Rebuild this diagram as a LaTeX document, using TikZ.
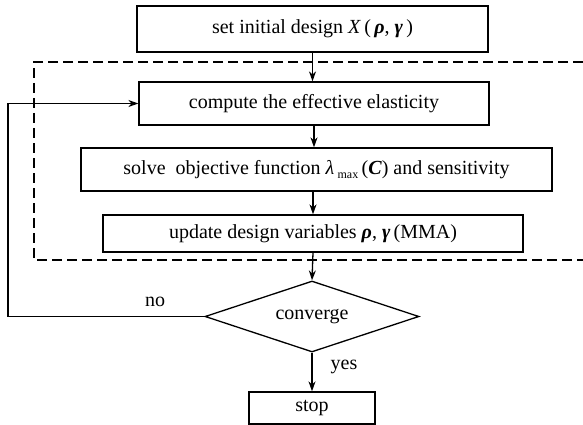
\documentclass[tikz,border=0pt]{standalone}
\usepackage{fontspec}
\setmainfont{Liberation Serif}
\usetikzlibrary{arrows.meta,shapes.geometric}

\tikzset{
  stepbox/.style={draw, line width=1.3pt, inner sep=0pt, font=\fontsize{20}{24}\selectfont},
  decide/.style={draw, diamond, aspect=3, line width=1.3pt, inner sep=0pt,
                 minimum width=214pt, minimum height=71pt, font=\fontsize{20}{24}\selectfont},
  flow/.style={line width=1.3pt, -{Stealth[length=10pt,width=7pt]}},
  tag/.style={inner sep=0pt, font=\fontsize{20}{24}\selectfont},
  loopframe/.style={line width=1.3pt, dash pattern=on 10pt off 5pt}
}
\newcommand{\bvec}[1]{\textbf{\textit{#1}}}

\begin{document}
\begin{tikzpicture}[x=1pt, y=-1pt, line join=miter]

  %% ════ 流程框 ════
  \node[stepbox, minimum width=351pt, minimum height=46pt] (init) at (312.5,29.0)
    {set initial design \textit{X}\,(\,\bvec{ρ}, \bvec{γ}\,)};
  \node[stepbox, minimum width=350pt, minimum height=43pt] (effect) at (314.0,103.5)
    {compute the effective elasticity};
  \node[stepbox, minimum width=471pt, minimum height=43pt] (solve) at (316.5,169.5)
    {solve\ \ objective function \textit{λ}\,\raisebox{-0.45ex}{\fontsize{12}{14}\selectfont max}\,(\bvec{C}) and sensitivity};
  \node[stepbox, minimum width=420pt, minimum height=37pt] (update) at (313.0,233.5)
    {update design variables \bvec{ρ}, \bvec{γ}\,(MMA)};
  \node[decide] (conv) at (312.0,316.5) {converge};
  \node[stepbox, minimum width=126pt, minimum height=32pt] (stop) at (312.0,408.0) {stop};

  %% ════ 虚线框（右侧开口）════
  \draw[loopframe] (583,62) -- (34,62) -- (34,260) -- (583,260);

  %% ════ 连线 ════
  \draw[flow] (init.south) -- (init.south |- effect.north);
  \draw[flow] (effect.south) -- (effect.south |- solve.north);
  \draw[flow] (update.south |- solve.south) -- (update.north);
  \draw[flow] (update.south) -- (conv.north);
  \draw[flow] (conv.south) -- (stop.north);

  % 回路：不收敛返回
  \coordinate (fbk) at (8,316.5);
  \draw[flow] (conv.west) -- (fbk) |- (effect.west);

  %% ════ 标签 ════
  \node[tag] (nolbl) at (155,302) {no};
  \node[tag] (yeslbl) at (344,367) {yes};

  \pgfresetboundingbox
  \path[use as bounding box] (0,0) rectangle (583,425);
\end{tikzpicture}
\end{document}
